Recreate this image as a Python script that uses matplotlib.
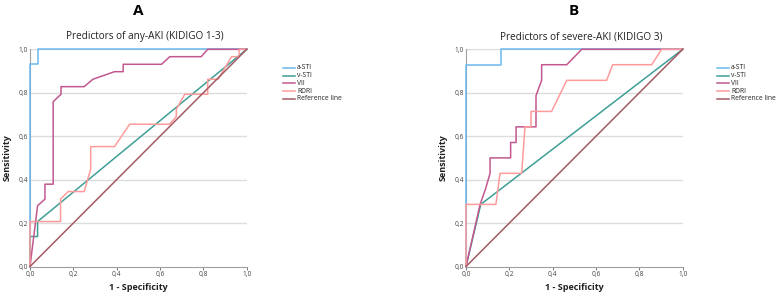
import matplotlib.pyplot as plt

plt.rcParams['font.family'] = ['Open Sans', 'DejaVu Sans']

# Panel A - any-AKI (KIDIGO 1-3)
a_asti_x = [0, 0, 0.035, 0.035, 1.0]
a_asti_y = [0, 0.931, 0.931, 1.0, 1.0]
a_vsti_x = [0, 0, 0.035, 0.035, 1.0]
a_vsti_y = [0, 0.138, 0.138, 0.207, 1.0]
a_vii_x = [0, 0.035, 0.069, 0.069, 0.107, 0.107, 0.143, 0.143, 0.25, 0.29,
           0.39, 0.43, 0.43, 0.607, 0.645, 0.79, 0.82, 1.0]
a_vii_y = [0, 0.28, 0.31, 0.379, 0.379, 0.759, 0.793, 0.828, 0.828, 0.862,
           0.897, 0.897, 0.931, 0.931, 0.966, 0.966, 1.0, 1.0]
a_rdri_x = [0, 0, 0.141, 0.141, 0.176, 0.25, 0.28, 0.28, 0.39, 0.46, 0.644,
            0.675, 0.675, 0.714, 0.82, 0.82, 0.868, 0.93, 0.965, 0.965, 1.0]
a_rdri_y = [0, 0.207, 0.207, 0.31, 0.345, 0.345, 0.448, 0.552, 0.552, 0.655,
            0.655, 0.69, 0.724, 0.793, 0.793, 0.862, 0.862, 0.966, 0.966, 1.0, 1.0]

# Panel B - severe-AKI (KIDIGO 3)
b_asti_x = [0, 0, 0.16, 0.16, 1.0]
b_asti_y = [0, 0.929, 0.929, 1.0, 1.0]
b_vsti_x = [0, 0.068, 1.0]
b_vsti_y = [0, 0.286, 1.0]
b_vii_x = [0, 0.065, 0.09, 0.111, 0.111, 0.206, 0.206, 0.231, 0.231, 0.323,
           0.323, 0.349, 0.349, 0.465, 0.534, 1.0]
b_vii_y = [0, 0.286, 0.357, 0.429, 0.5, 0.5, 0.571, 0.571, 0.643, 0.643,
           0.786, 0.857, 0.929, 0.929, 1.0, 1.0]
b_rdri_x = [0, 0, 0.138, 0.157, 0.257, 0.272, 0.30, 0.30, 0.395, 0.465,
            0.649, 0.677, 0.857, 0.903, 1.0]
b_rdri_y = [0, 0.286, 0.286, 0.429, 0.429, 0.643, 0.643, 0.714, 0.714, 0.857,
            0.857, 0.929, 0.929, 1.0, 1.0]

ref_x = [0, 1]
ref_y = [0, 1]

ticks = [0, 0.2, 0.4, 0.6, 0.8, 1.0]
tick_labels = ["0,0", "0,2", "0,4", "0,6", "0,8", "1,0"]
names = ["a-STI", "v-STI", "VII", "RDRI", "Reference line"]
colors = ["#6bb8ee", "#3e9f97", "#c2588f", "#ff9b9b", "#a35a63"]

panels = [
    ("A", "Predictors of any-AKI (KIDIGO 1-3)",
     [(a_asti_x, a_asti_y), (a_vsti_x, a_vsti_y), (a_vii_x, a_vii_y),
      (a_rdri_x, a_rdri_y), (ref_x, ref_y)], 30, 283),
    ("B", "Predictors of severe-AKI (KIDIGO 3)",
     [(b_asti_x, b_asti_y), (b_vsti_x, b_vsti_y), (b_vii_x, b_vii_y),
      (b_rdri_x, b_rdri_y), (ref_x, ref_y)], 466, 717),
]

W, H = 779, 295
fig = plt.figure(figsize=(W / 100, H / 100), dpi=100)

for letter, title, curves, left_px, leg_px in panels:
    ax = fig.add_axes([left_px / W, 1 - 266.5 / H, 216.7 / W, 217.2 / H])
    ax.set_xlim(0, 1)
    ax.set_ylim(0, 1)
    for y in ticks[1:]:
        ax.axhline(y, color="#dcdcdc", lw=1.0, zorder=0)
    # later series are drawn on top, like the original software
    for i, (cx, cy) in enumerate(curves):
        ax.plot(cx, cy, color=colors[i], lw=1.1, clip_on=False, zorder=3 + i)
    for s in ["top", "right"]:
        ax.spines[s].set_visible(False)
    for s in ["left", "bottom"]:
        ax.spines[s].set_color("#a0a0a0")
        ax.spines[s].set_linewidth(0.8)
    ax.set_xticks(ticks)
    ax.set_xticklabels(tick_labels)
    ax.set_yticks(ticks)
    ax.set_yticklabels(tick_labels)
    ax.tick_params(labelsize=4.8, colors="#444444", length=2, width=0.5, pad=1.5)
    ax.tick_params(axis="y", length=0)

    cx_px = left_px + 108
    fig.text(cx_px / W, 1 - 11 / H, letter, ha="center", va="center",
             fontsize=11, fontweight="bold")
    fig.text((cx_px + 7) / W, 1 - 37 / H, title, ha="center", va="center",
             fontsize=7.2, color="#222222")
    fig.text(cx_px / W, 1 - 287 / H, "1 - Specificity", ha="center", va="center",
             fontsize=6.5, fontweight="bold", color="#222222")
    fig.text((left_px - 23) / W, 1 - 158 / H, "Sensitivity", ha="center", va="center",
             rotation=90, fontsize=6.5, fontweight="bold", color="#222222")

    for k, name in enumerate(names):
        yy = 1 - (67.7 + k * 7.8) / H
        fig.add_artist(plt.Line2D([leg_px / W, (leg_px + 12) / W], [yy, yy],
                                  color=colors[k], lw=1.1))
        fig.text((leg_px + 14) / W, yy, name, ha="left", va="center",
                 fontsize=4.9, color="#222222")

fig.savefig("out.png", dpi=100)
